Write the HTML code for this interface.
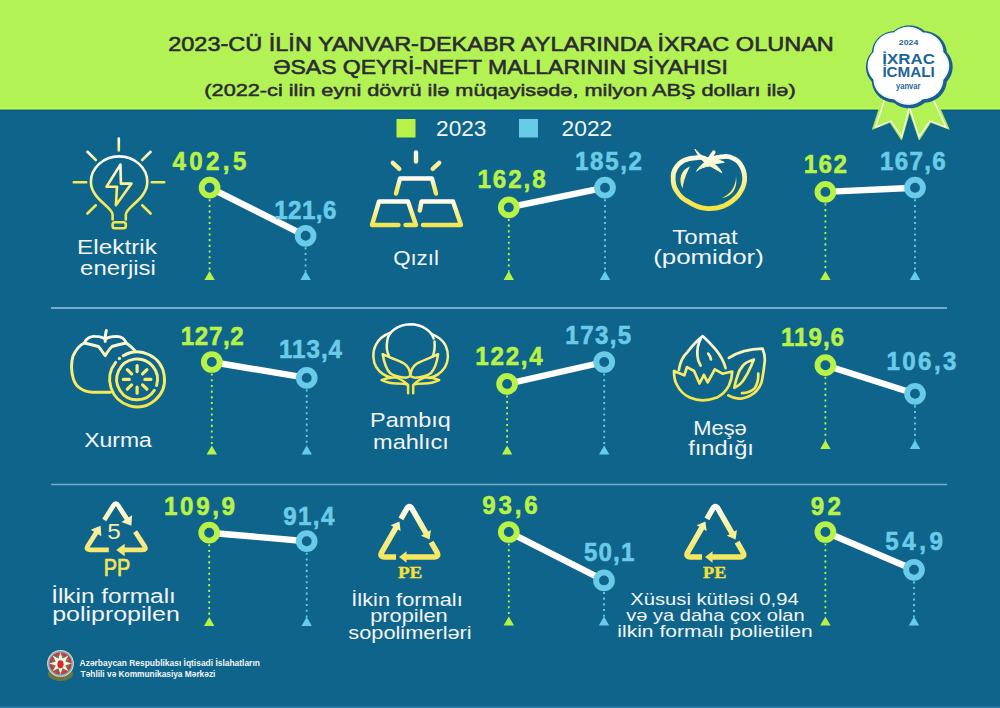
<!DOCTYPE html><html><head><meta charset="utf-8"><title>ixrac</title><style>html,body{margin:0;padding:0;width:1000px;height:708px;overflow:hidden;background:#0f648b}svg{display:block}</style></head><body>
<svg width="1000" height="708" viewBox="0 0 1000 708">
<defs>
<linearGradient id="g1" gradientUnits="userSpaceOnUse" x1="0" y1="155" x2="0" y2="215"><stop offset="0" stop-color="#ffffff"/><stop offset="0.35" stop-color="#fbf6c0"/><stop offset="0.6" stop-color="#f7ee70"/><stop offset="1" stop-color="#f4e64a"/></linearGradient>
<linearGradient id="g1t" gradientUnits="userSpaceOnUse" x1="0" y1="138" x2="0" y2="151"><stop offset="0" stop-color="#ffffff"/><stop offset="1" stop-color="#f3ea6a"/></linearGradient>
<linearGradient id="g1d" gradientUnits="userSpaceOnUse" x1="0" y1="151" x2="0" y2="161"><stop offset="0" stop-color="#ffffff"/><stop offset="1" stop-color="#f3ea6a"/></linearGradient>
<linearGradient id="g2r" gradientUnits="userSpaceOnUse" x1="0" y1="150" x2="0" y2="172"><stop offset="0" stop-color="#ffffff"/><stop offset="1" stop-color="#f6ec70"/></linearGradient>
<linearGradient id="g2a" gradientUnits="userSpaceOnUse" x1="0" y1="177" x2="0" y2="196"><stop offset="0" stop-color="#ffffff"/><stop offset="0.5" stop-color="#f9f08a"/><stop offset="1" stop-color="#f5e54a"/></linearGradient>
<linearGradient id="g2b" gradientUnits="userSpaceOnUse" x1="0" y1="199" x2="0" y2="227"><stop offset="0" stop-color="#ffffff"/><stop offset="0.5" stop-color="#f9f08a"/><stop offset="1" stop-color="#f5e54a"/></linearGradient>
<linearGradient id="g3" gradientUnits="userSpaceOnUse" x1="0" y1="150" x2="0" y2="210"><stop offset="0" stop-color="#fffff4"/><stop offset="0.35" stop-color="#fbf6c0"/><stop offset="0.65" stop-color="#f7ec70"/><stop offset="1" stop-color="#f5e540"/></linearGradient>
<linearGradient id="g4" gradientUnits="userSpaceOnUse" x1="0" y1="330" x2="0" y2="408"><stop offset="0" stop-color="#ffffff"/><stop offset="0.3" stop-color="#fbf5b4"/><stop offset="0.6" stop-color="#f7ec66"/><stop offset="1" stop-color="#f5e54a"/></linearGradient>
<linearGradient id="g5" gradientUnits="userSpaceOnUse" x1="0" y1="323" x2="0" y2="394"><stop offset="0" stop-color="#ffffff"/><stop offset="0.25" stop-color="#fbf6c0"/><stop offset="0.55" stop-color="#f7ec66"/><stop offset="1" stop-color="#f5e54a"/></linearGradient>
<linearGradient id="g6" gradientUnits="userSpaceOnUse" x1="0" y1="334" x2="0" y2="400"><stop offset="0" stop-color="#ffffff"/><stop offset="0.3" stop-color="#fbf5b4"/><stop offset="0.6" stop-color="#f7ec66"/><stop offset="1" stop-color="#f5e54a"/></linearGradient>
<linearGradient id="g7" gradientUnits="userSpaceOnUse" x1="0" y1="502" x2="0" y2="555"><stop offset="0" stop-color="#fffcea"/><stop offset="0.5" stop-color="#f8f0a0"/><stop offset="1" stop-color="#f5e66a"/></linearGradient>
<linearGradient id="g8" gradientUnits="userSpaceOnUse" x1="0" y1="504" x2="0" y2="560"><stop offset="0" stop-color="#ffffff"/><stop offset="0.4" stop-color="#f9f2a0"/><stop offset="1" stop-color="#f5e65a"/></linearGradient>
</defs>
<rect width="1000" height="708" fill="#0f648b"/>
<rect width="1000" height="110" fill="#b3f254"/>
<rect y="107.6" width="1000" height="1.4" fill="#bdfb4c"/>
<rect y="109.6" width="1000" height="1.4" fill="#0b5790"/>
<rect y="706.5" width="1000" height="1.5" fill="#2a7ba6"/>
<text x="501.0" y="51" font-family="Liberation Sans" font-size="20.5" stroke="#2b2b33" stroke-width="0.57" fill="#2b2b33" text-anchor="middle" textLength="665.64" lengthAdjust="spacingAndGlyphs">2023-CÜ İLİN YANVAR-DEKABR AYLARINDA İXRAC OLUNAN</text>
<text x="500.5" y="74" font-family="Liberation Sans" font-size="20.5" stroke="#2b2b33" stroke-width="0.57" fill="#2b2b33" text-anchor="middle" textLength="454.65" lengthAdjust="spacingAndGlyphs">ƏSAS QEYRİ-NEFT MALLARININ SİYAHISI</text>
<text x="500.0" y="96" font-family="Liberation Sans" font-size="17" stroke="#2b2b33" stroke-width="0.48" fill="#2b2b33" text-anchor="middle" textLength="591.32" lengthAdjust="spacingAndGlyphs">(2022-ci ilin eyni dövrü ilə müqayisədə, milyon ABŞ dolları ilə)</text>
<rect x="396.5" y="119" width="19" height="18.5" fill="#b9f246"/>
<rect x="519" y="119" width="19" height="18.5" fill="#6acbe8"/>
<text x="461.25" y="135.5" font-family="Liberation Sans" font-size="22.5" fill="#f2f4f4" text-anchor="middle" textLength="50.33" lengthAdjust="spacingAndGlyphs">2023</text>
<text x="586.9" y="135.5" font-family="Liberation Sans" font-size="22.5" fill="#f2f4f4" text-anchor="middle" textLength="50.64" lengthAdjust="spacingAndGlyphs">2022</text>
<line x1="51" y1="308" x2="947" y2="308" stroke="#79abc8" stroke-width="2"/>
<line x1="51" y1="484.5" x2="947" y2="484.5" stroke="#79abc8" stroke-width="1.6"/>
<line x1="209.6" y1="187.7" x2="305.6" y2="235.8" stroke="#ffffff" stroke-width="6.4"/>
<line x1="209.6" y1="199.2" x2="209.6" y2="271.5" stroke="#b9f246" stroke-width="1.8" stroke-dasharray="2.1 3.6"/>
<path d="M204.4 280L214.79999999999998 280L209.6 271Z" fill="#b9f246"/>
<circle cx="209.6" cy="187.7" r="7.9" fill="#0f648b" stroke="#b9f246" stroke-width="5.9"/>
<line x1="305.6" y1="247.3" x2="305.6" y2="271.5" stroke="#6acbe8" stroke-width="1.8" stroke-dasharray="2.1 3.6"/>
<path d="M300.40000000000003 280L310.8 280L305.6 271Z" fill="#6acbe8"/>
<circle cx="305.6" cy="235.8" r="7.9" fill="#0f648b" stroke="#6acbe8" stroke-width="5.9"/>
<text transform="translate(209.4 170.3) scale(0.93 1)" x="0" y="0" font-family="Liberation Sans" font-size="26" font-weight="bold" stroke="#b9f246" stroke-width="0.57" fill="#b9f246" text-anchor="middle" textLength="79.48" lengthAdjust="spacing">402,5</text>
<text transform="translate(305.35 218.8) scale(0.93 1)" x="0" y="0" font-family="Liberation Sans" font-size="26" font-weight="bold" stroke="#6acbe8" stroke-width="0.57" fill="#6acbe8" text-anchor="middle" textLength="66.88" lengthAdjust="spacing">121,6</text>
<line x1="508.8" y1="207.4" x2="605" y2="187.7" stroke="#ffffff" stroke-width="6.4"/>
<line x1="508.8" y1="218.9" x2="508.8" y2="271.5" stroke="#b9f246" stroke-width="1.8" stroke-dasharray="2.1 3.6"/>
<path d="M503.6 280L514.0 280L508.8 271Z" fill="#b9f246"/>
<circle cx="508.8" cy="207.4" r="7.9" fill="#0f648b" stroke="#b9f246" stroke-width="5.9"/>
<line x1="605" y1="199.2" x2="605" y2="271.5" stroke="#6acbe8" stroke-width="1.8" stroke-dasharray="2.1 3.6"/>
<path d="M599.8 280L610.2 280L605 271Z" fill="#6acbe8"/>
<circle cx="605" cy="187.7" r="7.9" fill="#0f648b" stroke="#6acbe8" stroke-width="5.9"/>
<text transform="translate(511.6 187.7) scale(0.93 1)" x="0" y="0" font-family="Liberation Sans" font-size="26" font-weight="bold" stroke="#b9f246" stroke-width="0.57" fill="#b9f246" text-anchor="middle" textLength="73.44" lengthAdjust="spacing">162,8</text>
<text transform="translate(608.5 170.3) scale(0.93 1)" x="0" y="0" font-family="Liberation Sans" font-size="26" font-weight="bold" stroke="#6acbe8" stroke-width="0.57" fill="#6acbe8" text-anchor="middle" textLength="72.16" lengthAdjust="spacing">185,2</text>
<line x1="825.4" y1="191.9" x2="915" y2="187.7" stroke="#ffffff" stroke-width="6.4"/>
<line x1="825.4" y1="203.4" x2="825.4" y2="271.5" stroke="#b9f246" stroke-width="1.8" stroke-dasharray="2.1 3.6"/>
<path d="M820.1999999999999 280L830.6 280L825.4 271Z" fill="#b9f246"/>
<circle cx="825.4" cy="191.9" r="7.9" fill="#0f648b" stroke="#b9f246" stroke-width="5.9"/>
<line x1="915" y1="199.2" x2="915" y2="271.5" stroke="#6acbe8" stroke-width="1.8" stroke-dasharray="2.1 3.6"/>
<path d="M909.8 280L920.2 280L915 271Z" fill="#6acbe8"/>
<circle cx="915" cy="187.7" r="7.9" fill="#0f648b" stroke="#6acbe8" stroke-width="5.9"/>
<text transform="translate(825.3 172.9) scale(0.93 1)" x="0" y="0" font-family="Liberation Sans" font-size="26" font-weight="bold" stroke="#b9f246" stroke-width="0.57" fill="#b9f246" text-anchor="middle" textLength="46.32" lengthAdjust="spacing">162</text>
<text transform="translate(912.9 169.9) scale(0.93 1)" x="0" y="0" font-family="Liberation Sans" font-size="26" font-weight="bold" stroke="#6acbe8" stroke-width="0.57" fill="#6acbe8" text-anchor="middle" textLength="70.82" lengthAdjust="spacing">167,6</text>
<line x1="211.8" y1="362" x2="306.7" y2="377.9" stroke="#ffffff" stroke-width="6.4"/>
<line x1="211.8" y1="373.5" x2="211.8" y2="446.0" stroke="#b9f246" stroke-width="1.8" stroke-dasharray="2.1 3.6"/>
<path d="M206.60000000000002 454.5L217.0 454.5L211.8 445.5Z" fill="#b9f246"/>
<circle cx="211.8" cy="362" r="7.9" fill="#0f648b" stroke="#b9f246" stroke-width="5.9"/>
<line x1="306.7" y1="389.4" x2="306.7" y2="446.0" stroke="#6acbe8" stroke-width="1.8" stroke-dasharray="2.1 3.6"/>
<path d="M301.5 454.5L311.9 454.5L306.7 445.5Z" fill="#6acbe8"/>
<circle cx="306.7" cy="377.9" r="7.9" fill="#0f648b" stroke="#6acbe8" stroke-width="5.9"/>
<text transform="translate(212.25 345.3) scale(0.93 1)" x="0" y="0" font-family="Liberation Sans" font-size="26" font-weight="bold" stroke="#b9f246" stroke-width="0.57" fill="#b9f246" text-anchor="middle" textLength="67.92" lengthAdjust="spacing">127,2</text>
<text transform="translate(310.5 357.5) scale(0.93 1)" x="0" y="0" font-family="Liberation Sans" font-size="26" font-weight="bold" stroke="#6acbe8" stroke-width="0.57" fill="#6acbe8" text-anchor="middle" textLength="67.85" lengthAdjust="spacing">113,4</text>
<line x1="507.1" y1="383.9" x2="604.2" y2="362" stroke="#ffffff" stroke-width="6.4"/>
<line x1="507.1" y1="395.4" x2="507.1" y2="446.0" stroke="#b9f246" stroke-width="1.8" stroke-dasharray="2.1 3.6"/>
<path d="M501.90000000000003 454.5L512.3000000000001 454.5L507.1 445.5Z" fill="#b9f246"/>
<circle cx="507.1" cy="383.9" r="7.9" fill="#0f648b" stroke="#b9f246" stroke-width="5.9"/>
<line x1="604.2" y1="373.5" x2="604.2" y2="446.0" stroke="#6acbe8" stroke-width="1.8" stroke-dasharray="2.1 3.6"/>
<path d="M599.0 454.5L609.4000000000001 454.5L604.2 445.5Z" fill="#6acbe8"/>
<circle cx="604.2" cy="362" r="7.9" fill="#0f648b" stroke="#6acbe8" stroke-width="5.9"/>
<text transform="translate(509.05 364.8) scale(0.93 1)" x="0" y="0" font-family="Liberation Sans" font-size="26" font-weight="bold" stroke="#b9f246" stroke-width="0.57" fill="#b9f246" text-anchor="middle" textLength="72.48" lengthAdjust="spacing">122,4</text>
<text transform="translate(598.25 343.6) scale(0.93 1)" x="0" y="0" font-family="Liberation Sans" font-size="26" font-weight="bold" stroke="#6acbe8" stroke-width="0.57" fill="#6acbe8" text-anchor="middle" textLength="70.75" lengthAdjust="spacing">173,5</text>
<line x1="825.4" y1="365.2" x2="915" y2="393.8" stroke="#ffffff" stroke-width="6.4"/>
<line x1="825.4" y1="376.7" x2="825.4" y2="440.5" stroke="#b9f246" stroke-width="1.8" stroke-dasharray="2.1 3.6"/>
<path d="M820.1999999999999 449L830.6 449L825.4 440Z" fill="#b9f246"/>
<circle cx="825.4" cy="365.2" r="7.9" fill="#0f648b" stroke="#b9f246" stroke-width="5.9"/>
<line x1="915" y1="405.3" x2="915" y2="440.5" stroke="#6acbe8" stroke-width="1.8" stroke-dasharray="2.1 3.6"/>
<path d="M909.8 449L920.2 449L915 440Z" fill="#6acbe8"/>
<circle cx="915" cy="393.8" r="7.9" fill="#0f648b" stroke="#6acbe8" stroke-width="5.9"/>
<text transform="translate(812.5 345.5) scale(0.93 1)" x="0" y="0" font-family="Liberation Sans" font-size="26" font-weight="bold" stroke="#b9f246" stroke-width="0.57" fill="#b9f246" text-anchor="middle" textLength="67.81" lengthAdjust="spacing">119,6</text>
<text transform="translate(921.45 369.7) scale(0.93 1)" x="0" y="0" font-family="Liberation Sans" font-size="26" font-weight="bold" stroke="#6acbe8" stroke-width="0.57" fill="#6acbe8" text-anchor="middle" textLength="75.27" lengthAdjust="spacing">106,3</text>
<line x1="209.2" y1="532.7" x2="306.7" y2="541.2" stroke="#ffffff" stroke-width="6.4"/>
<line x1="209.2" y1="544.2" x2="209.2" y2="617.5" stroke="#b9f246" stroke-width="1.8" stroke-dasharray="2.1 3.6"/>
<path d="M204.0 626L214.39999999999998 626L209.2 617Z" fill="#b9f246"/>
<circle cx="209.2" cy="532.7" r="7.9" fill="#0f648b" stroke="#b9f246" stroke-width="5.9"/>
<line x1="306.7" y1="552.7" x2="306.7" y2="617.5" stroke="#6acbe8" stroke-width="1.8" stroke-dasharray="2.1 3.6"/>
<path d="M301.5 626L311.9 626L306.7 617Z" fill="#6acbe8"/>
<circle cx="306.7" cy="541.2" r="7.9" fill="#0f648b" stroke="#6acbe8" stroke-width="5.9"/>
<text transform="translate(199.5 514.5) scale(0.93 1)" x="0" y="0" font-family="Liberation Sans" font-size="26" font-weight="bold" stroke="#b9f246" stroke-width="0.57" fill="#b9f246" text-anchor="middle" textLength="76.41" lengthAdjust="spacing">109,9</text>
<text transform="translate(308.85 525.3) scale(0.93 1)" x="0" y="0" font-family="Liberation Sans" font-size="26" font-weight="bold" stroke="#6acbe8" stroke-width="0.57" fill="#6acbe8" text-anchor="middle" textLength="54.87" lengthAdjust="spacing">91,4</text>
<line x1="508.8" y1="532" x2="604" y2="580.4" stroke="#ffffff" stroke-width="6.4"/>
<line x1="508.8" y1="543.5" x2="508.8" y2="617.0" stroke="#b9f246" stroke-width="1.8" stroke-dasharray="2.1 3.6"/>
<path d="M503.6 625.5L514.0 625.5L508.8 616.5Z" fill="#b9f246"/>
<circle cx="508.8" cy="532" r="7.9" fill="#0f648b" stroke="#b9f246" stroke-width="5.9"/>
<line x1="604" y1="591.9" x2="604" y2="617.0" stroke="#6acbe8" stroke-width="1.8" stroke-dasharray="2.1 3.6"/>
<path d="M598.8 625.5L609.2 625.5L604 616.5Z" fill="#6acbe8"/>
<circle cx="604" cy="580.4" r="7.9" fill="#0f648b" stroke="#6acbe8" stroke-width="5.9"/>
<text transform="translate(510.05 513.6) scale(0.93 1)" x="0" y="0" font-family="Liberation Sans" font-size="26" font-weight="bold" stroke="#b9f246" stroke-width="0.57" fill="#b9f246" text-anchor="middle" textLength="59.74" lengthAdjust="spacing">93,6</text>
<text transform="translate(609.15 561.3) scale(0.93 1)" x="0" y="0" font-family="Liberation Sans" font-size="26" font-weight="bold" stroke="#6acbe8" stroke-width="0.57" fill="#6acbe8" text-anchor="middle" textLength="54.18" lengthAdjust="spacing">50,1</text>
<line x1="825.4" y1="532" x2="914" y2="569.8" stroke="#ffffff" stroke-width="6.4"/>
<line x1="825.4" y1="543.5" x2="825.4" y2="617.0" stroke="#b9f246" stroke-width="1.8" stroke-dasharray="2.1 3.6"/>
<path d="M820.1999999999999 625.5L830.6 625.5L825.4 616.5Z" fill="#b9f246"/>
<circle cx="825.4" cy="532" r="7.9" fill="#0f648b" stroke="#b9f246" stroke-width="5.9"/>
<line x1="914" y1="581.3" x2="914" y2="617.0" stroke="#6acbe8" stroke-width="1.8" stroke-dasharray="2.1 3.6"/>
<path d="M908.8 625.5L919.2 625.5L914 616.5Z" fill="#6acbe8"/>
<circle cx="914" cy="569.8" r="7.9" fill="#0f648b" stroke="#6acbe8" stroke-width="5.9"/>
<text transform="translate(825.85 514.7) scale(0.93 1)" x="0" y="0" font-family="Liberation Sans" font-size="26" font-weight="bold" stroke="#b9f246" stroke-width="0.57" fill="#b9f246" text-anchor="middle" textLength="32.42" lengthAdjust="spacing">92</text>
<text transform="translate(914.2 550.3) scale(0.93 1)" x="0" y="0" font-family="Liberation Sans" font-size="26" font-weight="bold" stroke="#6acbe8" stroke-width="0.57" fill="#6acbe8" text-anchor="middle" textLength="62.04" lengthAdjust="spacing">54,9</text>
<text x="117.0" y="253.5" font-family="Liberation Sans" font-size="20.5" fill="#f2f4f4" text-anchor="middle" textLength="79.73" lengthAdjust="spacingAndGlyphs">Elektrik</text>
<text x="118.0" y="275" font-family="Liberation Sans" font-size="20.5" fill="#f2f4f4" text-anchor="middle" textLength="75.72" lengthAdjust="spacingAndGlyphs">enerjisi</text>
<text x="416.0" y="264.6" font-family="Liberation Sans" font-size="20.5" fill="#f2f4f4" text-anchor="middle" textLength="45.69" lengthAdjust="spacingAndGlyphs">Qızıl</text>
<text x="705.0" y="243.5" font-family="Liberation Sans" font-size="20.5" fill="#f2f4f4" text-anchor="middle" textLength="65.65" lengthAdjust="spacingAndGlyphs">Tomat</text>
<text x="708.5" y="264.3" font-family="Liberation Sans" font-size="20.5" fill="#f2f4f4" text-anchor="middle" textLength="110.71" lengthAdjust="spacingAndGlyphs">(pomidor)</text>
<text x="118.0" y="447" font-family="Liberation Sans" font-size="20.5" fill="#f2f4f4" text-anchor="middle" textLength="67.64" lengthAdjust="spacingAndGlyphs">Xurma</text>
<text x="410.5" y="426.5" font-family="Liberation Sans" font-size="20.5" fill="#f2f4f4" text-anchor="middle" textLength="80.72" lengthAdjust="spacingAndGlyphs">Pambıq</text>
<text x="411.0" y="448.5" font-family="Liberation Sans" font-size="20.5" fill="#f2f4f4" text-anchor="middle" textLength="75.8" lengthAdjust="spacingAndGlyphs">mahlıcı</text>
<text x="720.0" y="434.75" font-family="Liberation Sans" font-size="20.5" fill="#f2f4f4" text-anchor="middle" textLength="53.67" lengthAdjust="spacingAndGlyphs">Meşə</text>
<text x="721.0" y="455" font-family="Liberation Sans" font-size="20.5" fill="#f2f4f4" text-anchor="middle" textLength="65.75" lengthAdjust="spacingAndGlyphs">fındığı</text>
<text x="113.5" y="602.5" font-family="Liberation Sans" font-size="19.5" fill="#f2f4f4" text-anchor="middle" textLength="124.7" lengthAdjust="spacingAndGlyphs">İlkin formalı</text>
<text x="116.0" y="620.7" font-family="Liberation Sans" font-size="19.5" fill="#f2f4f4" text-anchor="middle" textLength="127.6" lengthAdjust="spacingAndGlyphs">polipropilen</text>
<text x="407.0" y="605.5" font-family="Liberation Sans" font-size="17.5" fill="#f2f4f4" text-anchor="middle" textLength="111.51" lengthAdjust="spacingAndGlyphs">İlkin formalı</text>
<text x="409.0" y="622" font-family="Liberation Sans" font-size="17.5" fill="#f2f4f4" text-anchor="middle" textLength="77.47" lengthAdjust="spacingAndGlyphs">propilen</text>
<text x="410.0" y="639" font-family="Liberation Sans" font-size="17.5" fill="#f2f4f4" text-anchor="middle" textLength="123.42" lengthAdjust="spacingAndGlyphs">sopolimerləri</text>
<text x="714.5" y="604.75" font-family="Liberation Sans" font-size="17" fill="#f2f4f4" text-anchor="middle" textLength="168.36" lengthAdjust="spacingAndGlyphs">Xüsusi kütləsi 0,94</text>
<text x="715.5" y="620.8" font-family="Liberation Sans" font-size="17" fill="#f2f4f4" text-anchor="middle" textLength="178.37" lengthAdjust="spacingAndGlyphs">və ya daha çox olan</text>
<text x="715.0" y="636.6" font-family="Liberation Sans" font-size="17" fill="#f2f4f4" text-anchor="middle" textLength="195.38" lengthAdjust="spacingAndGlyphs">ilkin formalı polietilen</text>
<g fill="none" stroke-width="2.6" stroke-linecap="round" stroke-linejoin="round">
<path d="M118.8 138.5V150.5" stroke="url(#g1t)"/>
<path d="M87.4 151.8L95.8 160 M150.6 151.8L142.2 160" stroke="url(#g1d)"/>
<path d="M73.8 182.3H86.2 M151.8 182.3H164.2 M87.4 213.5L95.8 205.3 M150.6 213.5L142.2 205.3" stroke="#f4ea56"/>
<path d="M112.6 219.5V214.5C112.6 207 91 199 90.9 182A28.2 25.6 0 0 1 147.3 182C147.3 199 125.8 207 125.8 214.5V219.5" stroke="url(#g1)"/>
<rect x="112.6" y="222.2" width="13.2" height="6" rx="2.2" stroke="#f4e64a"/>
<path d="M120.4 164.6L106.5 186.8H117L115.9 205.2L131.5 183.6H120.9Z" stroke="url(#g1)"/>
</g>
<g fill="none" stroke-width="4.4" stroke-linecap="round" stroke-linejoin="round">
<path d="M416 152.5V161.5 M392.8 162.8L399.3 168.8 M439.2 162.8L432.7 168.8" stroke="url(#g2r)"/>
<path d="M396 193.5L400 178.5H432L436 193.5" stroke="url(#g2a)"/>
<path d="M398.5 225H372L379 201.5H408L416 225H405.5" stroke="url(#g2b)"/>
<path d="M419.8 210.5L421.5 201.5H453L461 225H423" stroke="url(#g2b)"/>
</g>
<g fill="url(#g3)" stroke="url(#g3)" stroke-linecap="round" stroke-linejoin="round">
<path fill="none" stroke-width="4.8" d="M708 160C703 157 699 157 695.7 157.8C690 158 680 160 675.5 168.5C673 172 673 176 673.2 178.5C673 183 674 187 676.4 190.6C679 195 683 199 687.1 201.1C693 205 699 208 705.6 208.4C713 209 719 208 724.3 205.7C730 203 735 199 738.3 195.1C742 190 744 186 744.5 181.1C745 176 744 171 742.3 167.6C740 163 737 160 734.5 159C731 157 727 156 723.8 156.7C718 157 712 159 708 160Z"/>
<path stroke-width="1" d="M695.2 149.5C698 153 702 156.5 706 158C708 157.5 710 157.5 712 158.5C716 159.5 721 160.5 724.3 162.3C720 163 717 163.5 714 163.8C717 166 720 169 721.9 172.7C717 170 713 167.5 710 166C705 166.5 700 168 696.6 171.2C699 167 702 164.5 704.5 162.5C702 160 698 156 695.2 149.5Z"/>
<path fill="none" stroke-width="3.6" d="M709.5 158.5L713.8 152.2"/>
<path stroke="none" d="M690 166.5C681 170 678 179 682.5 188.5C684 180 686 174 690 166.5Z" />
<path stroke="none" d="M736 176.5C736 186 731 194 721.9 198C732 197 738 188 736 176.5Z" />
</g>
<g fill="none" stroke="url(#g4)" stroke-width="2.9" stroke-linecap="round" stroke-linejoin="round">
<path d="M105.2 341.5C105 337 105.5 333 106.4 330.6"/>
<path d="M84.3 343C86 338 91 336 95 336.4C100 336.5 104 338 105.2 339.4C107 338 111 336.4 116.6 336.4C121 336.5 125 339 126.2 343C121 344 115 345.5 112 346.5C109 349 107 353 105.2 355.6C103 353 101 349 98.5 346.5C95 345.5 89 344 84.3 343Z"/>
<path d="M84.3 343C80 345 75.8 350 73 356C71 362 71 372 73.4 379C75 384 78 387 80.6 388.6C84 391 88 392 92.6 392.3H110.6 M126.2 343C129 345 132 347.5 134.6 350.2"/>
<path d="M123.2 355.8A27.4 27.4 0 1 1 115.64 362.38"/>
<path d="M154.4 390.21A20.4 20.4 0 1 1 156.57 385.5"/>
<path d="M119.38 358.5l0.01 0" stroke-width="3.3"/>
<path d="M137.1 365.6V371.6 M137.1 387.2V393.2 M123.3 379.4H129.3 M144.9 379.4H150.9 M127.3 369.6L131.6 373.9 M142.6 384.9L146.9 389.2 M127.3 389.2L131.6 384.9 M142.6 373.9L146.9 369.6" stroke-width="3.2"/>
</g>
<g fill="none" stroke="url(#g5)" stroke-width="2.5" stroke-linecap="round" stroke-linejoin="round">
<path d="M388.9 356C386 350 386.5 345 387.2 341C388 332 398 324.5 410.4 324.3C423 324.5 432 332 433.6 338.5 M434.5 341.5C435 347 434.5 352 432.7 356.2"/>
<path d="M390.6 332.7C384 335 378.5 339 375.8 345C372 352 373 362 376.2 367C380 373 385 376 390.6 377.3 M431.3 333.8C437 336 443 340 445.8 346C449 353 448.5 362 444.8 367.5C441 373 435 377 429 377.9"/>
<path d="M382.7 354.2C384 362 386 369 390 373C394 376.5 400 377 404 377.5C407 378 409.5 376.5 410.4 375.6C410 370 408 366 404 363.5C398 360 390 358 382.7 354.2Z M438.1 354.2C437 362 435 369 431 373C427 376.5 421 377 417 377.5C414 378 411.3 376.5 410.4 375.6C411 370 413 366 417 363.5C423 360 431 358 438.1 354.2Z"/>
<path d="M408.1 393.2V385C405 382 400 378.5 396.3 377.6C391 377 385 378.5 381.6 380.2C387 382.5 392 383.6 396.3 383.6C400 383.6 405 383.5 408.1 385 M413.2 393.2V385C416 382 421 378.5 424.9 377.6C430 377 436 378.5 439.2 380.2C434 382.5 429 383.6 424.9 383.6C421 383.6 416 383.5 413.2 385"/>
</g>
<g fill="none" stroke="url(#g6)" stroke-width="2.7" stroke-linecap="round" stroke-linejoin="round">
<path d="M674 371C674 378 675 381.5 676.7 384.5C680 391 684 395 689.7 397.6C694 399.5 698 400.3 702.8 400.3C708 400.3 712 399.5 716.9 397.6C722 395 726 391 728.9 385.6C731 381 732.2 376 732.2 371.5L722.4 373.7L714.8 369.3L707.7 382.4L703.9 374.8L699.5 383.5L694.1 371L687 367.1L684.3 375.3Z"/>
<path d="M678.9 369.9C680 362 683 356 687.6 351.9C693 345 699 339 702.8 336.2C706 339 711 344 715.8 349.7C720 355 724 362 725.6 368.2"/>
<path d="M700.6 338.9C698 344 697 350 697.4 355.2C697.5 359 699 363 700.6 365.5 M708.2 353.6C709.5 355 710.5 357 711 359.5"/>
<path d="M728.9 357.9C738 352 750 349 762.6 348.7C764 352 765 356 764.8 360.6C764 368 763 376 761.5 382.4C759 389 755 393 750.6 395.4C746 397.5 742 398.7 738.7 398.7C734 398.5 731 397 728.3 395.4"/>
<path d="M753.9 359.5C749 361 745 363 743 365.5C740 369 738.5 372 737.8 375C736 380 735 384 734.3 387.8C738 386 742 383 744.1 379.1C747 375 749 371 750.6 367.1C752 364 753 361 753.9 359.5Z"/>
<path d="M758.3 373.7C758.5 380 757 384.5 755 387.8C752 391 747 393 742 393.2"/>
</g>
<path d="M104.25 520.08L113.40 505.60Q115.80 501.80 118.25 505.58L127.05 519.14" fill="none" stroke="url(#g7)" stroke-width="4.7"/>
<path d="M131.40 525.85L121.53 522.12L132.02 515.32Z" fill="url(#g7)"/>
<path d="M135.14 531.62L144.55 546.12Q147.00 549.90 142.50 549.90L124.20 549.90" fill="none" stroke="url(#g7)" stroke-width="4.7"/>
<path d="M116.20 549.90L124.70 543.65L124.70 556.15Z" fill="url(#g7)"/>
<path d="M108.81 549.90L89.90 549.90Q85.40 549.90 87.80 546.10L96.33 532.61" fill="none" stroke="url(#g7)" stroke-width="4.7"/>
<path d="M100.60 525.85L101.34 536.37L90.78 529.70Z" fill="url(#g7)"/>
<text x="114.0" y="538.8" font-family="Liberation Sans" font-size="22" fill="#f7f0a8" text-anchor="middle" textLength="13.49" lengthAdjust="spacingAndGlyphs">5</text>
<text x="116.9" y="576" font-family="Liberation Sans" font-size="23.5" stroke="#f6e657" stroke-width="0.66" fill="#f6e657" text-anchor="middle" textLength="26.5" lengthAdjust="spacingAndGlyphs">PP</text>
<path d="M400.92 518.88L406.66 508.87Q409.40 504.10 412.13 508.87L426.16 533.40" fill="none" stroke="url(#g8)" stroke-width="5.5"/>
<path d="M429.63 539.48L420.92 535.82L430.90 530.11Z" fill="url(#g8)"/>
<path d="M431.14 542.12L436.87 552.13Q439.60 556.90 434.10 556.90L406.06 556.90" fill="none" stroke="url(#g8)" stroke-width="5.5"/>
<path d="M399.06 556.90L406.56 551.15L406.56 562.65Z" fill="url(#g8)"/>
<path d="M396.04 556.90L384.60 556.90Q379.10 556.90 381.84 552.13L395.92 527.60" fill="none" stroke="url(#g8)" stroke-width="5.5"/>
<path d="M399.40 521.52L400.66 530.89L390.68 525.17Z" fill="url(#g8)"/>
<path d="M706.92 518.88L712.66 508.87Q715.40 504.10 718.13 508.87L732.16 533.40" fill="none" stroke="url(#g8)" stroke-width="5.5"/>
<path d="M735.63 539.48L726.92 535.82L736.90 530.11Z" fill="url(#g8)"/>
<path d="M737.14 542.12L742.87 552.13Q745.60 556.90 740.10 556.90L712.07 556.90" fill="none" stroke="url(#g8)" stroke-width="5.5"/>
<path d="M705.07 556.90L712.57 551.15L712.57 562.65Z" fill="url(#g8)"/>
<path d="M702.04 556.90L690.60 556.90Q685.10 556.90 687.84 552.13L701.92 527.60" fill="none" stroke="url(#g8)" stroke-width="5.5"/>
<path d="M705.40 521.52L706.66 530.89L696.68 525.17Z" fill="url(#g8)"/>
<text x="410.1" y="578.4" font-family="Liberation Serif" font-size="17.5" font-weight="bold" stroke="#f7e234" stroke-width="0.35" fill="#f7e234" text-anchor="middle" textLength="24.45" lengthAdjust="spacingAndGlyphs">PE</text>
<text x="714.7" y="578.2" font-family="Liberation Serif" font-size="17.5" font-weight="bold" stroke="#f7e234" stroke-width="0.35" fill="#f7e234" text-anchor="middle" textLength="23.2" lengthAdjust="spacingAndGlyphs">PE</text>
<g>
<ellipse cx="60.5" cy="673.5" rx="12.5" ry="7.5" fill="#6e7440"/>
<circle cx="60.5" cy="663.4" r="13.4" fill="#e8d9a0"/>
<circle cx="60.5" cy="663.4" r="12.4" fill="#5fb3e0"/>
<circle cx="60.5" cy="663.4" r="11" fill="#cf3838"/>
<path d="M60.50 652.20L62.49 658.60L68.42 655.48L65.30 661.41L71.70 663.40L65.30 665.39L68.42 671.32L62.49 668.20L60.50 674.60L58.51 668.20L52.58 671.32L55.70 665.39L49.30 663.40L55.70 661.41L52.58 655.48L58.51 658.60Z" fill="#f6f4ee"/>
<circle cx="63.26" cy="656.75" r="1.3" fill="#3a9a4a"/>
<circle cx="67.15" cy="660.64" r="1.3" fill="#3a9a4a"/>
<circle cx="67.15" cy="666.16" r="1.3" fill="#3a9a4a"/>
<circle cx="63.26" cy="670.05" r="1.3" fill="#3a9a4a"/>
<circle cx="57.74" cy="670.05" r="1.3" fill="#3a9a4a"/>
<circle cx="53.85" cy="666.16" r="1.3" fill="#3a9a4a"/>
<circle cx="53.85" cy="660.64" r="1.3" fill="#3a9a4a"/>
<circle cx="57.74" cy="656.75" r="1.3" fill="#3a9a4a"/>
<ellipse cx="60.5" cy="664.2" rx="3.1" ry="4" fill="#d42a2a"/>
</g>
<text x="169.75" y="665.5" font-family="Liberation Sans" font-size="9.6" font-weight="bold" fill="#f2f4f4" text-anchor="middle" textLength="180.27" lengthAdjust="spacingAndGlyphs">Azərbaycan Respublikası İqtisadi İslahatların</text>
<text x="148.0" y="676.5" font-family="Liberation Sans" font-size="9.6" font-weight="bold" fill="#f2f4f4" text-anchor="middle" textLength="134.77" lengthAdjust="spacingAndGlyphs">Təhlili və Kommunikasiya Mərkəzi</text>
<g stroke-linejoin="miter">
<path d="M883 97L872.4 129.3L890 122.2L901.5 140L912 104Z" fill="#b3f254" stroke="#b3f254" stroke-width="0.8"/>
<path d="M935 97L949.2 129.3L930.7 122.2L919.2 140L907 104Z" fill="#b3f254" stroke="#b3f254" stroke-width="0.8"/>
<path d="M884.5 100L875.5 127.3L890.8 121L901.8 136.8L910 104" fill="none" stroke="#ffffff" stroke-width="1.3"/>
<path d="M933.5 100L946.1 127.3L930 121L919 136.8L908.5 104" fill="none" stroke="#ffffff" stroke-width="1.3"/>
</g>
<path d="M952.66 66.90L952.65 67.62L952.61 68.35L952.55 69.07L952.47 69.79L952.36 70.50L952.22 71.21L952.06 71.92L951.88 72.62L951.67 73.32L951.44 74.01L951.19 74.69L950.92 75.36L950.62 76.02L950.30 76.68L949.96 77.32L949.59 77.95L949.21 78.57L948.80 79.17L948.38 79.77L947.94 80.35L947.47 80.91L946.99 81.46L946.72 82.09L946.65 82.80L946.56 83.52L946.45 84.23L946.31 84.93L946.15 85.64L945.96 86.33L945.75 87.03L945.52 87.71L945.26 88.39L944.98 89.06L944.68 89.72L944.36 90.37L944.01 91.02L943.64 91.65L943.25 92.27L942.84 92.87L942.41 93.47L941.96 94.05L941.49 94.62L941.00 95.17L940.49 95.70L939.96 96.22L939.42 96.73L938.86 97.21L938.28 97.68L937.69 98.13L937.08 98.56L936.46 98.97L935.83 99.37L935.18 99.74L934.52 100.09L933.85 100.42L933.16 100.73L932.47 101.02L931.77 101.29L931.06 101.54L930.35 101.76L929.62 101.96L928.89 102.14L928.16 102.29L927.42 102.43L926.68 102.53L925.93 102.62L925.18 102.68L924.53 102.94L923.95 103.40L923.36 103.85L922.76 104.27L922.14 104.68L921.50 105.07L920.85 105.43L920.19 105.78L919.52 106.11L918.84 106.41L918.15 106.70L917.44 106.96L916.73 107.20L916.01 107.42L915.28 107.62L914.55 107.79L913.81 107.95L913.07 108.08L912.32 108.18L911.57 108.26L910.81 108.32L910.06 108.36L909.30 108.37L908.54 108.36L907.79 108.32L907.03 108.26L906.28 108.18L905.53 108.08L904.79 107.95L904.05 107.79L903.32 107.62L902.59 107.42L901.87 107.20L901.16 106.96L900.45 106.70L899.76 106.41L899.08 106.11L898.41 105.78L897.75 105.43L897.10 105.07L896.46 104.68L895.84 104.27L895.24 103.85L894.65 103.40L894.07 102.94L893.42 102.68L892.67 102.62L891.92 102.53L891.18 102.43L890.44 102.29L889.71 102.14L888.98 101.96L888.25 101.76L887.54 101.54L886.83 101.29L886.13 101.02L885.44 100.73L884.75 100.42L884.08 100.09L883.42 99.74L882.77 99.37L882.14 98.97L881.52 98.56L880.91 98.13L880.32 97.68L879.74 97.21L879.18 96.73L878.64 96.22L878.11 95.70L877.60 95.17L877.11 94.62L876.64 94.05L876.19 93.47L875.76 92.87L875.35 92.27L874.96 91.65L874.59 91.02L874.24 90.37L873.92 89.72L873.62 89.06L873.34 88.39L873.08 87.71L872.85 87.03L872.64 86.33L872.45 85.64L872.29 84.93L872.15 84.23L872.04 83.52L871.95 82.80L871.88 82.09L871.61 81.46L871.13 80.91L870.66 80.35L870.22 79.77L869.80 79.17L869.39 78.57L869.01 77.95L868.64 77.32L868.30 76.68L867.98 76.02L867.68 75.36L867.41 74.69L867.16 74.01L866.93 73.32L866.72 72.62L866.54 71.92L866.38 71.21L866.24 70.50L866.13 69.79L866.05 69.07L865.99 68.35L865.95 67.62L865.94 66.90L865.95 66.18L865.99 65.45L866.05 64.73L866.13 64.01L866.24 63.30L866.38 62.59L866.54 61.88L866.72 61.18L866.93 60.48L867.16 59.79L867.41 59.11L867.68 58.44L867.98 57.78L868.30 57.12L868.64 56.48L869.01 55.85L869.39 55.23L869.80 54.63L870.22 54.03L870.66 53.45L871.13 52.89L871.61 52.34L871.88 51.71L871.95 51.00L872.04 50.28L872.15 49.57L872.29 48.87L872.45 48.16L872.64 47.47L872.85 46.77L873.08 46.09L873.34 45.41L873.62 44.74L873.92 44.08L874.24 43.43L874.59 42.78L874.96 42.15L875.35 41.53L875.76 40.93L876.19 40.33L876.64 39.75L877.11 39.18L877.60 38.63L878.11 38.10L878.64 37.58L879.18 37.07L879.74 36.59L880.32 36.12L880.91 35.67L881.52 35.24L882.14 34.83L882.77 34.43L883.42 34.06L884.08 33.71L884.75 33.38L885.44 33.07L886.13 32.78L886.83 32.51L887.54 32.26L888.25 32.04L888.98 31.84L889.71 31.66L890.44 31.51L891.18 31.37L891.92 31.27L892.67 31.18L893.42 31.12L894.07 30.86L894.65 30.40L895.24 29.95L895.84 29.53L896.46 29.12L897.10 28.73L897.75 28.37L898.41 28.02L899.08 27.69L899.76 27.39L900.45 27.10L901.16 26.84L901.87 26.60L902.59 26.38L903.32 26.18L904.05 26.01L904.79 25.85L905.53 25.72L906.28 25.62L907.03 25.54L907.79 25.48L908.54 25.44L909.30 25.43L910.06 25.44L910.81 25.48L911.57 25.54L912.32 25.62L913.07 25.72L913.81 25.85L914.55 26.01L915.28 26.18L916.01 26.38L916.73 26.60L917.44 26.84L918.15 27.10L918.84 27.39L919.52 27.69L920.19 28.02L920.85 28.37L921.50 28.73L922.14 29.12L922.76 29.53L923.36 29.95L923.95 30.40L924.53 30.86L925.18 31.12L925.93 31.18L926.68 31.27L927.42 31.37L928.16 31.51L928.89 31.66L929.62 31.84L930.35 32.04L931.06 32.26L931.77 32.51L932.47 32.78L933.16 33.07L933.85 33.38L934.52 33.71L935.18 34.06L935.83 34.43L936.46 34.83L937.08 35.24L937.69 35.67L938.28 36.12L938.86 36.59L939.42 37.07L939.96 37.58L940.49 38.10L941.00 38.63L941.49 39.18L941.96 39.75L942.41 40.33L942.84 40.93L943.25 41.53L943.64 42.15L944.01 42.78L944.36 43.43L944.68 44.08L944.98 44.74L945.26 45.41L945.52 46.09L945.75 46.77L945.96 47.47L946.15 48.16L946.31 48.87L946.45 49.57L946.56 50.28L946.65 51.00L946.72 51.71L946.99 52.34L947.47 52.89L947.94 53.45L948.38 54.03L948.80 54.63L949.21 55.23L949.59 55.85L949.96 56.48L950.30 57.12L950.62 57.78L950.92 58.44L951.19 59.11L951.44 59.79L951.67 60.48L951.88 61.18L952.06 61.88L952.22 62.59L952.36 63.30L952.47 64.01L952.55 64.73L952.61 65.45L952.65 66.18Z" fill="#1b5f90"/>
<path d="M949.19 65.80L949.18 66.48L949.14 67.16L949.08 67.84L948.99 68.51L948.88 69.19L948.75 69.86L948.59 70.52L948.41 71.18L948.20 71.83L947.98 72.47L947.73 73.11L947.45 73.74L947.15 74.36L946.84 74.96L946.50 75.56L946.14 76.15L945.75 76.72L945.35 77.28L944.93 77.83L944.49 78.36L944.03 78.88L943.55 79.38L943.30 79.97L943.26 80.64L943.21 81.32L943.12 82.00L943.02 82.67L942.89 83.34L942.73 84.00L942.56 84.66L942.36 85.31L942.13 85.96L941.88 86.59L941.61 87.22L941.32 87.84L941.00 88.45L940.67 89.05L940.31 89.64L939.93 90.22L939.53 90.78L939.11 91.33L938.67 91.87L938.21 92.39L937.74 92.89L937.24 93.38L936.73 93.85L936.20 94.31L935.66 94.75L935.10 95.17L934.52 95.57L933.93 95.95L933.33 96.31L932.72 96.66L932.09 96.98L931.45 97.28L930.80 97.56L930.14 97.82L929.48 98.06L928.80 98.27L928.12 98.46L927.43 98.63L926.74 98.78L926.04 98.91L925.34 99.01L924.63 99.09L923.92 99.14L923.21 99.17L922.60 99.41L922.08 99.87L921.53 100.31L920.98 100.73L920.41 101.14L919.82 101.52L919.22 101.89L918.61 102.23L917.98 102.56L917.35 102.86L916.70 103.15L916.04 103.41L915.38 103.65L914.70 103.87L914.02 104.06L913.33 104.24L912.64 104.39L911.94 104.51L911.24 104.62L910.53 104.70L909.82 104.76L909.11 104.79L908.40 104.81L907.69 104.79L906.98 104.76L906.27 104.70L905.56 104.62L904.86 104.51L904.16 104.39L903.47 104.24L902.78 104.06L902.10 103.87L901.42 103.65L900.76 103.41L900.10 103.15L899.45 102.86L898.82 102.56L898.19 102.23L897.58 101.89L896.98 101.52L896.39 101.14L895.82 100.73L895.27 100.31L894.72 99.87L894.20 99.41L893.59 99.17L892.88 99.14L892.17 99.09L891.46 99.01L890.76 98.91L890.06 98.78L889.37 98.63L888.68 98.46L888.00 98.27L887.32 98.06L886.66 97.82L886.00 97.56L885.35 97.28L884.71 96.98L884.08 96.66L883.47 96.31L882.87 95.95L882.28 95.57L881.70 95.17L881.14 94.75L880.60 94.31L880.07 93.85L879.56 93.38L879.06 92.89L878.59 92.39L878.13 91.87L877.69 91.33L877.27 90.78L876.87 90.22L876.49 89.64L876.13 89.05L875.80 88.45L875.48 87.84L875.19 87.22L874.92 86.59L874.67 85.96L874.44 85.31L874.24 84.66L874.07 84.00L873.91 83.34L873.78 82.67L873.68 82.00L873.59 81.32L873.54 80.64L873.50 79.97L873.25 79.38L872.77 78.88L872.31 78.36L871.87 77.83L871.45 77.28L871.05 76.72L870.66 76.15L870.30 75.56L869.96 74.96L869.65 74.36L869.35 73.74L869.07 73.11L868.82 72.47L868.60 71.83L868.39 71.18L868.21 70.52L868.05 69.86L867.92 69.19L867.81 68.51L867.72 67.84L867.66 67.16L867.62 66.48L867.61 65.80L867.62 65.12L867.66 64.44L867.72 63.76L867.81 63.09L867.92 62.41L868.05 61.74L868.21 61.08L868.39 60.42L868.60 59.77L868.82 59.13L869.07 58.49L869.35 57.86L869.65 57.24L869.96 56.64L870.30 56.04L870.66 55.45L871.05 54.88L871.45 54.32L871.87 53.77L872.31 53.24L872.77 52.72L873.25 52.22L873.50 51.63L873.54 50.96L873.59 50.28L873.68 49.60L873.78 48.93L873.91 48.26L874.07 47.60L874.24 46.94L874.44 46.29L874.67 45.64L874.92 45.01L875.19 44.38L875.48 43.76L875.80 43.15L876.13 42.55L876.49 41.96L876.87 41.38L877.27 40.82L877.69 40.27L878.13 39.73L878.59 39.21L879.06 38.71L879.56 38.22L880.07 37.75L880.60 37.29L881.14 36.85L881.70 36.43L882.28 36.03L882.87 35.65L883.47 35.29L884.08 34.94L884.71 34.62L885.35 34.32L886.00 34.04L886.66 33.78L887.32 33.54L888.00 33.33L888.68 33.14L889.37 32.97L890.06 32.82L890.76 32.69L891.46 32.59L892.17 32.51L892.88 32.46L893.59 32.43L894.20 32.19L894.72 31.73L895.27 31.29L895.82 30.87L896.39 30.46L896.98 30.08L897.58 29.71L898.19 29.37L898.82 29.04L899.45 28.74L900.10 28.45L900.76 28.19L901.42 27.95L902.10 27.73L902.78 27.54L903.47 27.36L904.16 27.21L904.86 27.09L905.56 26.98L906.27 26.90L906.98 26.84L907.69 26.81L908.40 26.79L909.11 26.81L909.82 26.84L910.53 26.90L911.24 26.98L911.94 27.09L912.64 27.21L913.33 27.36L914.02 27.54L914.70 27.73L915.38 27.95L916.04 28.19L916.70 28.45L917.35 28.74L917.98 29.04L918.61 29.37L919.22 29.71L919.82 30.08L920.41 30.46L920.98 30.87L921.53 31.29L922.08 31.73L922.60 32.19L923.21 32.43L923.92 32.46L924.63 32.51L925.34 32.59L926.04 32.69L926.74 32.82L927.43 32.97L928.12 33.14L928.80 33.33L929.48 33.54L930.14 33.78L930.80 34.04L931.45 34.32L932.09 34.62L932.72 34.94L933.33 35.29L933.93 35.65L934.52 36.03L935.10 36.43L935.66 36.85L936.20 37.29L936.73 37.75L937.24 38.22L937.74 38.71L938.21 39.21L938.67 39.73L939.11 40.27L939.53 40.82L939.93 41.38L940.31 41.96L940.67 42.55L941.00 43.15L941.32 43.76L941.61 44.38L941.88 45.01L942.13 45.64L942.36 46.29L942.56 46.94L942.73 47.60L942.89 48.26L943.02 48.93L943.12 49.60L943.21 50.28L943.26 50.96L943.30 51.63L943.55 52.22L944.03 52.72L944.49 53.24L944.93 53.77L945.35 54.32L945.75 54.88L946.14 55.45L946.50 56.04L946.84 56.64L947.15 57.24L947.45 57.86L947.73 58.49L947.98 59.13L948.20 59.77L948.41 60.42L948.59 61.08L948.75 61.74L948.88 62.41L948.99 63.09L949.08 63.76L949.14 64.44L949.18 65.12Z" fill="#ffffff"/>
<path d="M947.95 65.80L947.94 66.46L947.90 67.12L947.84 67.78L947.76 68.43L947.65 69.08L947.51 69.73L947.36 70.37L947.17 71.01L946.97 71.64L946.74 72.27L946.49 72.88L946.22 73.49L945.92 74.08L945.60 74.67L945.26 75.25L944.90 75.81L944.52 76.36L944.12 76.90L943.69 77.42L943.25 77.93L942.79 78.42L942.31 78.90L942.07 79.47L942.05 80.13L942.01 80.79L941.95 81.45L941.86 82.10L941.75 82.76L941.61 83.40L941.45 84.05L941.26 84.68L941.05 85.31L940.82 85.94L940.57 86.55L940.29 87.15L939.99 87.75L939.67 88.33L939.33 88.91L938.96 89.47L938.58 90.02L938.18 90.55L937.75 91.07L937.31 91.58L936.85 92.07L936.37 92.55L935.87 93.00L935.36 93.45L934.83 93.87L934.28 94.27L933.72 94.66L933.15 95.03L932.56 95.38L931.96 95.70L931.35 96.01L930.73 96.30L930.10 96.56L929.46 96.81L928.80 97.03L928.15 97.23L927.48 97.40L926.81 97.56L926.13 97.69L925.45 97.80L924.76 97.88L924.07 97.94L923.38 97.98L922.69 98.00L922.10 98.23L921.60 98.69L921.08 99.13L920.55 99.55L920.00 99.95L919.44 100.34L918.87 100.70L918.28 101.05L917.68 101.38L917.06 101.68L916.44 101.96L915.80 102.23L915.16 102.47L914.51 102.68L913.85 102.88L913.18 103.05L912.51 103.20L911.83 103.33L911.15 103.44L910.47 103.52L909.78 103.58L909.09 103.61L908.40 103.62L907.71 103.61L907.02 103.58L906.33 103.52L905.65 103.44L904.97 103.33L904.29 103.20L903.62 103.05L902.95 102.88L902.29 102.68L901.64 102.47L901.00 102.23L900.36 101.96L899.74 101.68L899.12 101.38L898.52 101.05L897.93 100.70L897.36 100.34L896.80 99.95L896.25 99.55L895.72 99.13L895.20 98.69L894.70 98.23L894.11 98.00L893.42 97.98L892.73 97.94L892.04 97.88L891.35 97.80L890.67 97.69L889.99 97.56L889.32 97.40L888.65 97.23L888.00 97.03L887.34 96.81L886.70 96.56L886.07 96.30L885.45 96.01L884.84 95.70L884.24 95.38L883.65 95.03L883.08 94.66L882.52 94.27L881.97 93.87L881.44 93.45L880.93 93.00L880.43 92.55L879.95 92.07L879.49 91.58L879.05 91.07L878.62 90.55L878.22 90.02L877.84 89.47L877.47 88.91L877.13 88.33L876.81 87.75L876.51 87.15L876.23 86.55L875.98 85.94L875.75 85.31L875.54 84.68L875.35 84.05L875.19 83.40L875.05 82.76L874.94 82.10L874.85 81.45L874.79 80.79L874.75 80.13L874.73 79.47L874.49 78.90L874.01 78.42L873.55 77.93L873.11 77.42L872.68 76.90L872.28 76.36L871.90 75.81L871.54 75.25L871.20 74.67L870.88 74.08L870.58 73.49L870.31 72.88L870.06 72.27L869.83 71.64L869.63 71.01L869.44 70.37L869.29 69.73L869.15 69.08L869.04 68.43L868.96 67.78L868.90 67.12L868.86 66.46L868.85 65.80L868.86 65.14L868.90 64.48L868.96 63.82L869.04 63.17L869.15 62.52L869.29 61.87L869.44 61.23L869.63 60.59L869.83 59.96L870.06 59.33L870.31 58.72L870.58 58.11L870.88 57.52L871.20 56.93L871.54 56.35L871.90 55.79L872.28 55.24L872.68 54.70L873.11 54.18L873.55 53.67L874.01 53.18L874.49 52.70L874.73 52.13L874.75 51.47L874.79 50.81L874.85 50.15L874.94 49.50L875.05 48.84L875.19 48.20L875.35 47.55L875.54 46.92L875.75 46.29L875.98 45.66L876.23 45.05L876.51 44.45L876.81 43.85L877.13 43.27L877.47 42.69L877.84 42.13L878.22 41.58L878.62 41.05L879.05 40.53L879.49 40.02L879.95 39.53L880.43 39.05L880.93 38.60L881.44 38.15L881.97 37.73L882.52 37.33L883.08 36.94L883.65 36.57L884.24 36.22L884.84 35.90L885.45 35.59L886.07 35.30L886.70 35.04L887.34 34.79L888.00 34.57L888.65 34.37L889.32 34.20L889.99 34.04L890.67 33.91L891.35 33.80L892.04 33.72L892.73 33.66L893.42 33.62L894.11 33.60L894.70 33.37L895.20 32.91L895.72 32.47L896.25 32.05L896.80 31.65L897.36 31.26L897.93 30.90L898.52 30.55L899.12 30.22L899.74 29.92L900.36 29.64L901.00 29.37L901.64 29.13L902.29 28.92L902.95 28.72L903.62 28.55L904.29 28.40L904.97 28.27L905.65 28.16L906.33 28.08L907.02 28.02L907.71 27.99L908.40 27.98L909.09 27.99L909.78 28.02L910.47 28.08L911.15 28.16L911.83 28.27L912.51 28.40L913.18 28.55L913.85 28.72L914.51 28.92L915.16 29.13L915.80 29.37L916.44 29.64L917.06 29.92L917.68 30.22L918.28 30.55L918.87 30.90L919.44 31.26L920.00 31.65L920.55 32.05L921.08 32.47L921.60 32.91L922.10 33.37L922.69 33.60L923.38 33.62L924.07 33.66L924.76 33.72L925.45 33.80L926.13 33.91L926.81 34.04L927.48 34.20L928.15 34.37L928.80 34.57L929.46 34.79L930.10 35.04L930.73 35.30L931.35 35.59L931.96 35.90L932.56 36.22L933.15 36.57L933.72 36.94L934.28 37.33L934.83 37.73L935.36 38.15L935.87 38.60L936.37 39.05L936.85 39.53L937.31 40.02L937.75 40.53L938.18 41.05L938.58 41.58L938.96 42.13L939.33 42.69L939.67 43.27L939.99 43.85L940.29 44.45L940.57 45.05L940.82 45.66L941.05 46.29L941.26 46.92L941.45 47.55L941.61 48.20L941.75 48.84L941.86 49.50L941.95 50.15L942.01 50.81L942.05 51.47L942.07 52.13L942.31 52.70L942.79 53.18L943.25 53.67L943.69 54.18L944.12 54.70L944.52 55.24L944.90 55.79L945.26 56.35L945.60 56.93L945.92 57.52L946.22 58.11L946.49 58.72L946.74 59.33L946.97 59.96L947.17 60.59L947.36 61.23L947.51 61.87L947.65 62.52L947.76 63.17L947.84 63.82L947.90 64.48L947.94 65.14Z" fill="none" stroke="#dde6ec" stroke-width="0.7"/>
<text x="908.6" y="44.5" font-family="Liberation Sans" font-size="7.4" font-weight="bold" fill="#1b6596" text-anchor="middle" textLength="19.44" lengthAdjust="spacingAndGlyphs">2024</text>
<text x="908.6" y="63.7" font-family="Liberation Sans" font-size="15.4" font-weight="bold" fill="#1b6596" text-anchor="middle" textLength="52.49" lengthAdjust="spacingAndGlyphs">İXRAC</text>
<text x="908.6" y="77.4" font-family="Liberation Sans" font-size="15.4" font-weight="bold" fill="#1b6596" text-anchor="middle" textLength="52.45" lengthAdjust="spacingAndGlyphs">İCMALI</text>
<text x="908.2" y="89.2" font-family="Liberation Sans" font-size="9" font-weight="bold" fill="#1b6596" text-anchor="middle" textLength="24.36" lengthAdjust="spacingAndGlyphs">yanvar</text>
</svg></body></html>
